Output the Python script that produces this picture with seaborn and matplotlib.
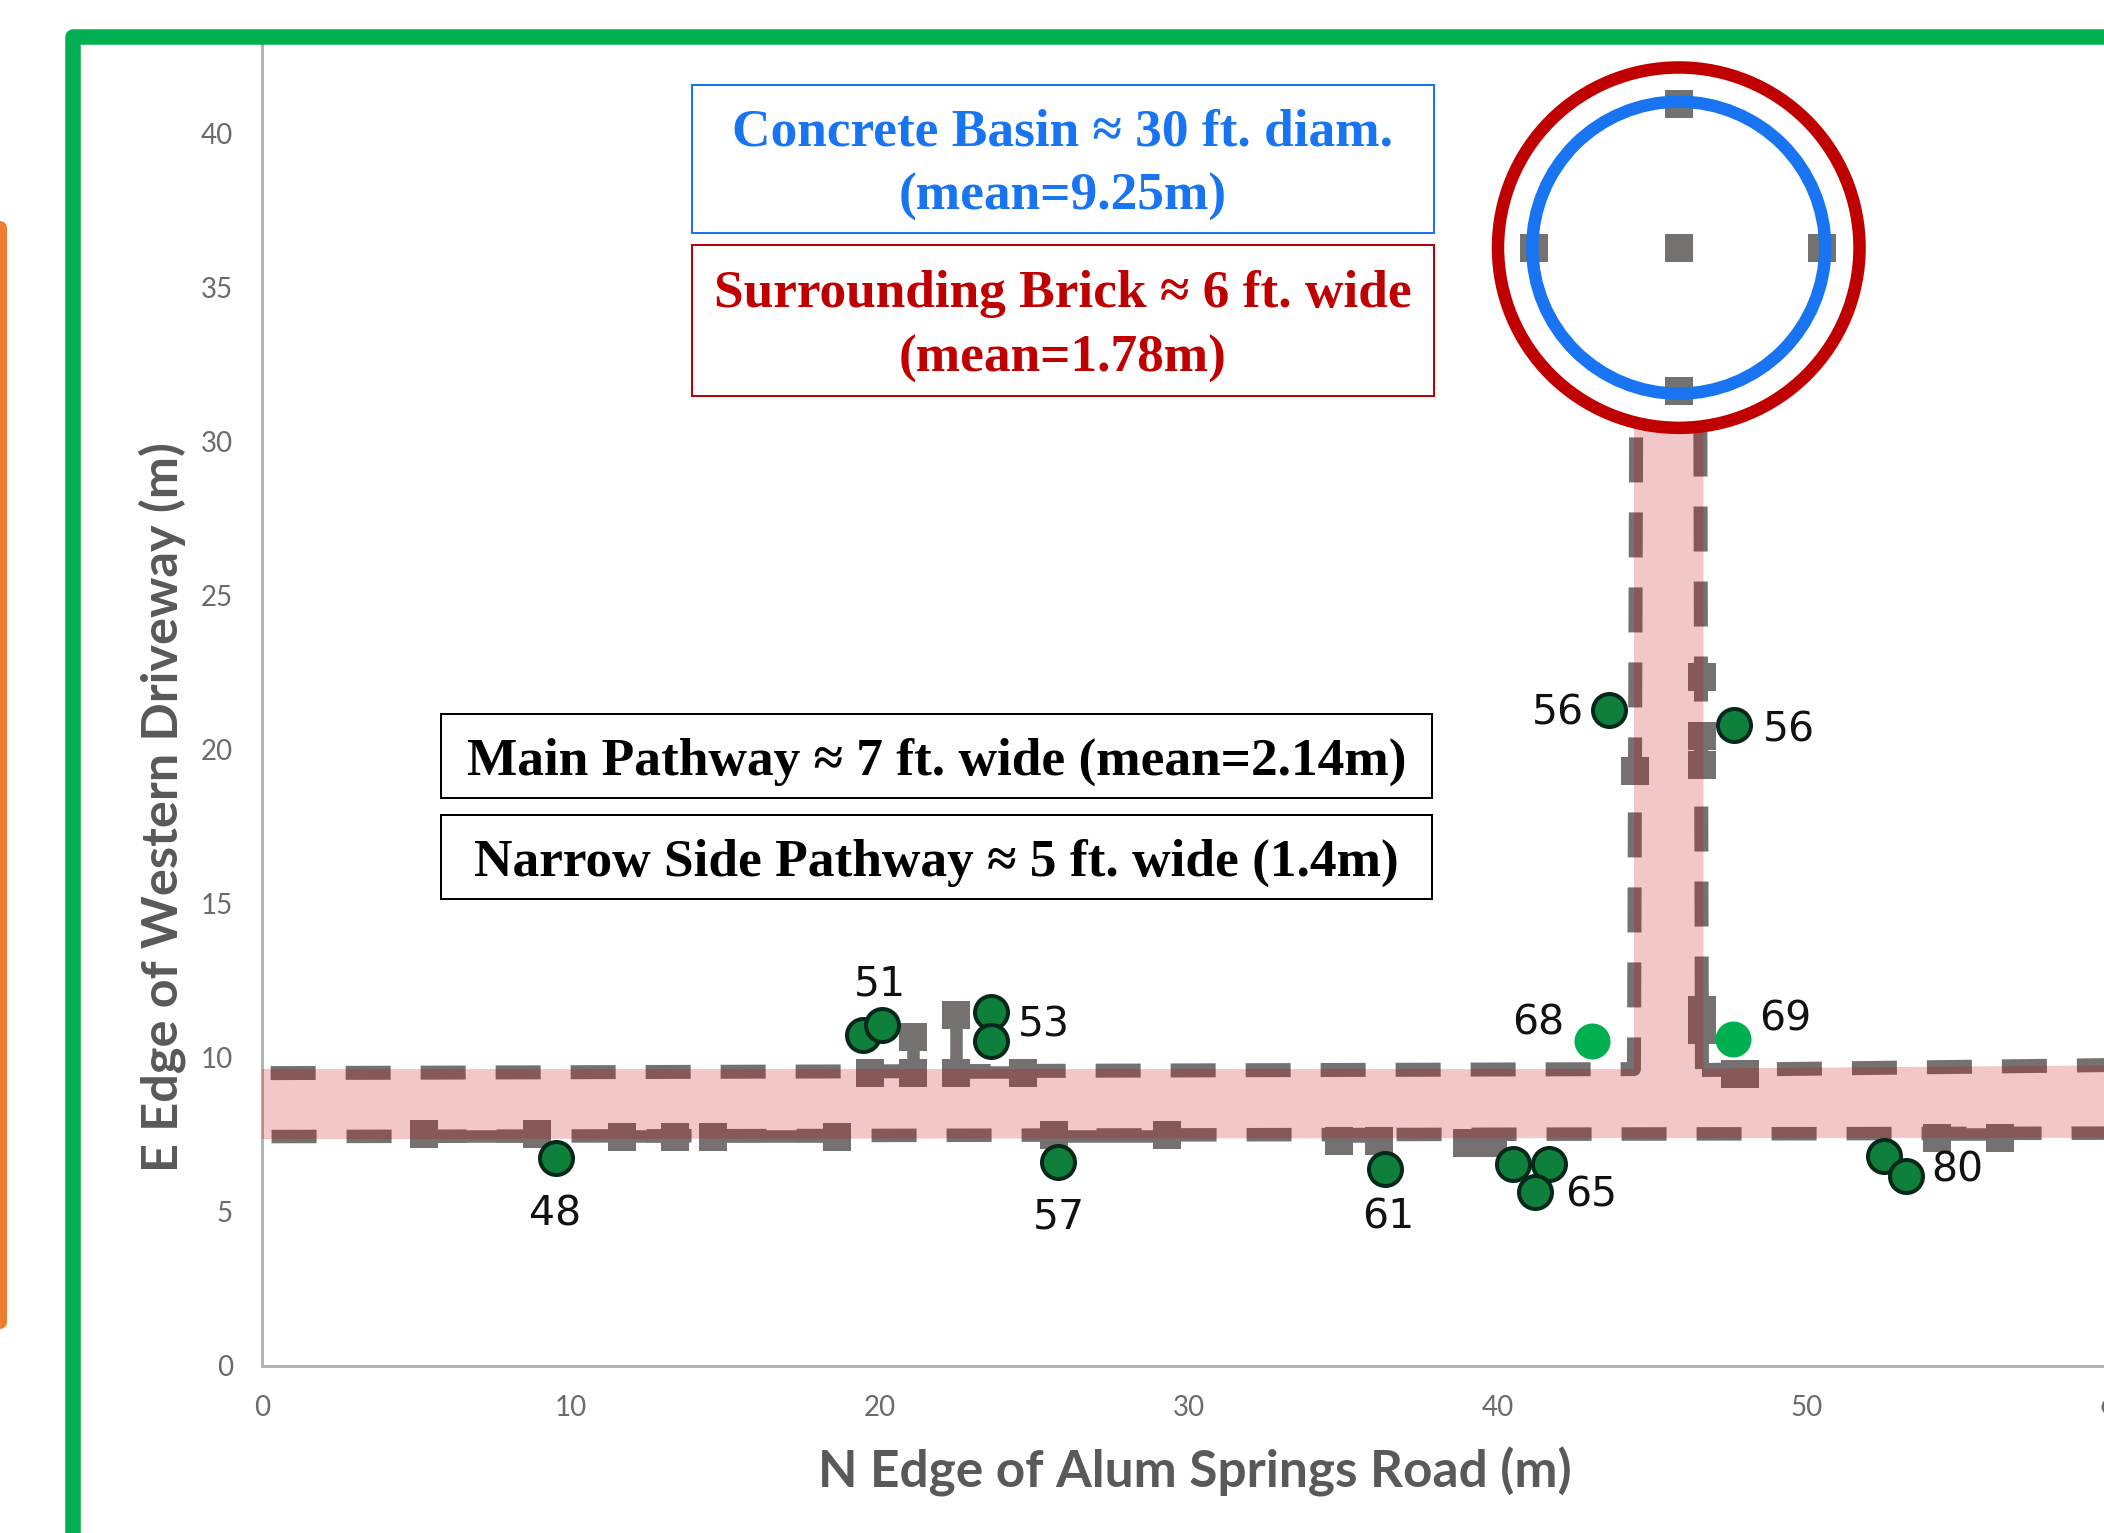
import matplotlib
matplotlib.use("Agg")
import matplotlib.pyplot as plt
from matplotlib.lines import Line2D
from matplotlib.patches import Circle, Rectangle
import pandas as pd
import seaborn as sns

W, H = 2104, 1533
PX = 0.72  # points per pixel at dpi=100
X_TICKS = [0, 10, 20, 30, 40, 50]
Y_TICKS = [0, 5, 10, 15, 20, 25, 30, 35, 40]
X_LABEL = "N Edge of Alum Springs Road (m)"
Y_LABEL = "E Edge of Western Driveway (m)"

# survey squares (metres)
square_x = [45.85, 45.85, 45.85, 41.15, 50.5,
            5.24, 8.9, 11.65, 13.37, 14.61, 18.61, 25.62, 29.29, 34.85, 36.15, 39.0, 39.42, 39.84,
            54.2, 56.25,
            19.68, 21.07, 21.07, 22.46, 22.46, 24.63,
            44.43, 46.6, 46.6, 46.6, 46.6, 46.6, 47.67, 48.0]
square_y = [36.3, 40.95, 31.65, 36.3, 36.3,
            7.52, 7.52, 7.42, 7.42, 7.42, 7.42, 7.49, 7.49, 7.3, 7.3, 7.23, 7.23, 7.23,
            7.4, 7.4,
            9.5, 9.5, 10.68, 9.5, 11.39, 9.5,
            19.3, 22.35, 20.44, 19.5, 11.55, 10.9, 9.47, 9.47]

# pathway edges (dashed), metres
left_edge_x = [0.28, 44.4, 44.47]
left_edge_y = [9.50, 9.63, 30.33]
right_vert_x = [46.55, 46.6]
right_vert_y = [30.33, 9.63]
right_edge_x = [46.6, 59.7]
right_edge_y = [9.60, 9.76]
bottom_edge_x = [0.31, 59.7]
bottom_edge_y = [7.44, 7.55]

# short solid links between neighbouring survey squares, metres
link_x0 = [5.24, 11.65, 14.61, 25.62, 34.85, 39.0, 54.2, 22.46, 21.07, 22.46]
link_x1 = [8.9, 13.37, 18.61, 29.29, 36.15, 39.84, 56.25, 24.63, 21.07, 22.46]
link_y0 = [7.47, 7.46, 7.46, 7.47, 7.47, 7.47, 7.52, 9.55, 9.5, 9.5]
link_y1 = [7.47, 7.46, 7.46, 7.47, 7.47, 7.47, 7.52, 9.55, 10.68, 11.39]

# pink pathway outline, metres
path_x = [0, 59.7, 59.7, 46.65, 46.65, 44.4, 44.4, 0]
path_y = [7.36, 7.40, 9.75, 9.65, 30.6, 30.6, 9.63, 9.63]

# basin
basin_x, basin_y = 45.85, 36.3
basin_r = 4.74
brick_r = 5.85

# tree points
tree_x = [9.5, 19.46, 20.06, 23.6, 23.6, 25.75, 36.35, 40.5, 41.65, 41.2, 52.5, 53.2, 43.6, 47.65]
tree_y = [6.75, 10.75, 11.05, 11.5, 10.55, 6.6, 6.4, 6.55, 6.55, 5.65, 6.8, 6.15, 21.3, 20.8]
light_x = [43.05, 47.6]
light_y = [10.55, 10.6]

point_labels = ["48", "51", "53", "57", "61", "65", "80", "56", "56", "68", "69"]
label_x = [9.5, 20.0, 25.3, 25.8, 36.45, 43.0, 54.85, 41.95, 49.4, 41.3, 49.3]
label_y = [4.92, 12.37, 11.03, 4.82, 4.82, 5.53, 6.33, 21.17, 20.63, 11.1, 11.25]

sns.set_theme(style="white")
plt.rcParams["lines.scale_dashes"] = False

fig = plt.figure(figsize=(W / 100, H / 100), dpi=100, facecolor="white")
ax = fig.add_axes([262 / W, 1 - 1365.7 / H, 1 - 262 / W, (1365.7 - 43) / H])
ax.set_xlim(0, (W - 262) / 30.9)
ax.set_ylim(0, (1365.7 - 43) / 30.8)

GREY = "#767171"
sq = pd.DataFrame({"x": square_x, "y": square_y})
sns.scatterplot(data=sq, x="x", y="y", marker="s", s=(28 * PX) ** 2, color=GREY,
                linewidth=0, ax=ax, zorder=2, clip_on=False)

dash = (0, (45 * PX, 30 * PX))
for xs, ys, lw in [(left_edge_x, left_edge_y, 14), (right_vert_x, right_vert_y, 14),
                   (right_edge_x, right_edge_y, 14), (bottom_edge_x, bottom_edge_y, 13.5)]:
    sns.lineplot(x=xs, y=ys, sort=False, estimator=None, color=GREY, linewidth=lw * PX,
                 linestyle=dash, ax=ax, zorder=2.2)
for line in ax.lines:
    line.set_dash_capstyle("butt")
    line.set_dash_joinstyle("round")
for x0, x1, y0, y1 in zip(link_x0, link_x1, link_y0, link_y1):
    ax.plot([x0, x1], [y0, y1], color=GREY, lw=12.5 * PX, solid_capstyle="butt", zorder=2.1)

ax.fill(path_x, path_y, color="#C00000", alpha=0.22, linewidth=0, zorder=3)

ax.add_patch(Circle((basin_x, basin_y), basin_r, fill=False, ec="#1874F0", lw=12.5 * PX, zorder=4))
ax.add_patch(Circle((basin_x, basin_y), brick_r, fill=False, ec="#C00000", lw=12.5 * PX, zorder=4))

size = (33 * PX) ** 2
ax.scatter(tree_x, tree_y, s=size, c="#0F7F3C", edgecolors="#06281A", linewidths=4 * PX, zorder=5)
ax.scatter(light_x, light_y, s=(36 * PX) ** 2, c="#00B050", linewidths=0, zorder=5)

for t, x, y in zip(point_labels, label_x, label_y):
    ax.text(x, y, t, fontsize=29.5, color="#111111", ha="center", va="center",
            family="DejaVu Sans", zorder=6)

for s in ["top", "right"]:
    ax.spines[s].set_visible(False)
for s in ["left", "bottom"]:
    ax.spines[s].set_color("#B3B3B3")
    ax.spines[s].set_linewidth(3 * PX)
ax.set_xticks(X_TICKS)
ax.set_yticks(Y_TICKS)
ax.tick_params(length=0, pad=21, labelsize=20, labelcolor="#6B6B6B")
for lab in ax.get_xticklabels() + ax.get_yticklabels():
    lab.set_family("Lato")
ax.set_xlabel("")
ax.set_ylabel("")
# the reference's last x tick label runs off its right edge
ax.text(60, -1.3, "60", fontsize=20, color="#6B6B6B", family="Lato", ha="center", va="center",
        clip_on=False)
fig.text(1195 / W, 1 - 1472 / H, X_LABEL, fontsize=37, fontweight="bold", color="#595959",
         family="Lato", ha="center", va="center")
fig.text(162 / W, 1 - 807 / H, Y_LABEL, fontsize=36.3, fontweight="bold", color="#595959",
         family="Lato", ha="center", va="center", rotation=90)


def box(x0, y0, x1, y1, color, lines):
    fig.add_artist(Rectangle((x0 / W, 1 - y1 / H), (x1 - x0) / W, (y1 - y0) / H,
                             transform=fig.transFigure, fc="white", ec=color, lw=2 * PX, zorder=8))
    cy = (y0 + y1) / 2 + 6
    n = len(lines)
    for i, t in enumerate(lines):
        yy = cy + (i - (n - 1) / 2) * 64.5
        fig.text((x0 + x1) / 2 / W, 1 - yy / H, t, fontsize=38.4, fontweight="bold", color=color,
                 family="Liberation Serif", ha="center", va="center", zorder=9)


box(692, 85, 1434, 233, "#1874F0", ["Concrete Basin ≈ 30 ft. diam.", "(mean=9.25m)"])
box(692, 245, 1434, 396, "#C00000", ["Surrounding Brick ≈ 6 ft. wide", "(mean=1.78m)"])
box(441, 714, 1432, 798, "#000000", ["Main Pathway ≈ 7 ft. wide (mean=2.14m)"])
box(441, 815, 1432, 899, "#000000", ["Narrow Side Pathway ≈ 5 ft. wide (1.4m)"])

fig.add_artist(Line2D([72.5 / W, 72.5 / W, 1.0], [0, 1 - 36.5 / H, 1 - 36.5 / H],
                      transform=fig.transFigure, color="#00B050", lw=15.5 * PX,
                      solid_joinstyle="round", solid_capstyle="butt", zorder=10))
fig.add_artist(Line2D([0, 0], [1 - 228 / H, 1 - 1322 / H], transform=fig.transFigure,
                      color="#ED7D31", lw=14 * PX, solid_capstyle="round", zorder=10))

fig.savefig("out.png", dpi=100)
